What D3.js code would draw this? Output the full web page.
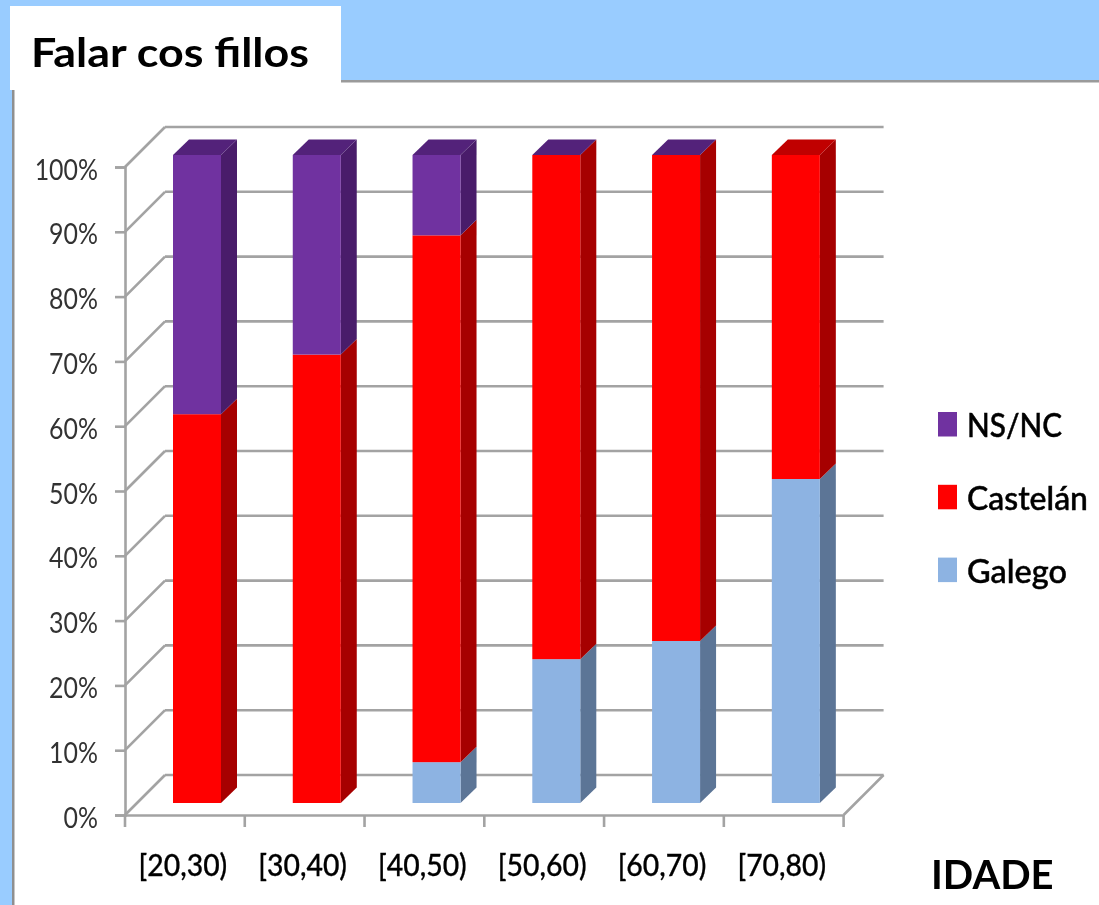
<!DOCTYPE html>
<html>
<head>
<meta charset="utf-8">
<script src="https://cdn.jsdelivr.net/npm/d3@7"></script>
<style>
  html, body { margin: 0; padding: 0; background: #fff; overflow: hidden; }
  svg { display: block; }
  text { font-family: Lato, "Open Sans", sans-serif; }
</style>
</head>
<body>
<svg width="1099" height="905"></svg>
<script>
const ageGroups = ['[20,30)', '[30,40)', '[40,50)', '[50,60)', '[60,70)', '[70,80)']
const galego = [0, 0, 6.3, 22.2, 25, 50]
const castelan = [60, 69.2, 81.3, 77.8, 75, 50]
// null = no segment at all, 0 = flat segment that still paints the bar's cap
const nsnc = [40, 30.8, 12.4, 0, 0, null]
const yTicks = [0, 10, 20, 30, 40, 50, 60, 70, 80, 90, 100]

const seriesNames = ['Galego', 'Castelán', 'NS/NC']
const seriesValues = [galego, castelan, nsnc]
const legendOrder = ['NS/NC', 'Castelán', 'Galego']

const front = { Galego: '#8DB3E2', 'Castelán': '#FF0000', 'NS/NC': '#7030A0' }
const side = { Galego: '#5B7496', 'Castelán': '#A60000', 'NS/NC': '#4A1F6B' }
const cap = { Galego: '#7191B8', 'Castelán': '#C00000', 'NS/NC': '#52227A' }
const legendTextWidth = { 'NS/NC': 95, 'Castelán': 121, Galego: 100 }

const gridColor = '#A3A3A3'
const wallDepth = 40
const barLift = 12
const barDx = 16
const barDy = 15.5
const barInset = 48
const barWidth = 48
const yLabelSqueeze = 0.86
const xLabelSqueeze = 0.915

const svg = d3.select('svg')

// The reference is a soft, upscaled screenshot
svg.append('defs').append('filter')
  .attr('id', 'soft')
  .attr('filterUnits', 'userSpaceOnUse')
  .attr('x', 0).attr('y', 0).attr('width', 1099).attr('height', 905)
  .append('feGaussianBlur').attr('stdDeviation', 0.55)

// Slide frame behind the chart
svg.append('rect').attr('width', 1099).attr('height', 905).attr('fill', '#99CCFF')
svg.append('rect').attr('x', 12).attr('y', 81).attr('width', 1087).attr('height', 824).attr('fill', '#fff')
svg.append('rect').attr('x', 10).attr('y', 6).attr('width', 331).attr('height', 84).attr('fill', '#fff')
svg.append('rect').attr('x', 341).attr('y', 80).attr('width', 758).attr('height', 2.5).attr('fill', '#9A9A9A')
svg.append('rect').attr('x', 12).attr('y', 90).attr('width', 2.5).attr('height', 815).attr('fill', '#8F8F8F')

const chart = svg.append('g').attr('filter', 'url(#soft)')

const x = d3.scaleBand().domain(ageGroups).range([125, 843.6])
const y = d3.scaleLinear().domain([0, 100]).range([815, 167])

// Back wall and side wall grid
const grid = chart.append('g').attr('fill', 'none').attr('stroke', gridColor).attr('stroke-width', 2.6)
grid.selectAll('.back').data(yTicks).join('line')
  .attr('class', 'back')
  .attr('x1', x.range()[0] + wallDepth).attr('x2', x.range()[1] + wallDepth)
  .attr('y1', d => y(d) - wallDepth).attr('y2', d => y(d) - wallDepth)
grid.selectAll('.wall').data(yTicks).join('line')
  .attr('class', 'wall')
  .attr('x1', x.range()[0]).attr('x2', x.range()[0] + wallDepth)
  .attr('y1', d => y(d)).attr('y2', d => y(d) - wallDepth)
grid.append('line')
  .attr('x1', x.range()[1]).attr('x2', x.range()[1] + wallDepth)
  .attr('y1', y(0)).attr('y2', y(0) - wallDepth)

// Stacked 3D bars
ageGroups.forEach((group, i) => {
  const g = chart.append('g')
  const left = x(group) + barInset
  const right = left + barWidth
  let sum = 0
  let topName = null
  let topY = null
  seriesNames.forEach((name, s) => {
    const v = seriesValues[s][i]
    if (v === null) return
    const y0 = y(sum) - barLift
    const y1 = y(sum + v) - barLift
    sum += v
    topName = name
    topY = y1
    if (v === 0) return
    g.append('path')
      .attr('fill', side[name])
      .attr('d', d3.line()([[right, y0], [right + barDx, y0 - barDy], [right + barDx, y1 - barDy], [right, y1]]))
    g.append('rect')
      .attr('x', left).attr('y', y1).attr('width', barWidth).attr('height', y0 - y1)
      .attr('fill', front[name])
  })
  g.append('path')
    .attr('fill', cap[topName])
    .attr('d', d3.line()([[left, topY], [left + barDx, topY - barDy], [right + barDx, topY - barDy], [right, topY]]))
})

// Value axis
const yAxis = chart.append('g')
  .attr('transform', `translate(${x.range()[0]},0)`)
  .call(d3.axisLeft(y).tickValues(yTicks).tickFormat(d => d + '%').tickSize(10).tickPadding(16))
yAxis.select('.domain').attr('stroke', gridColor).attr('stroke-width', 2.6)
yAxis.selectAll('.tick line').attr('stroke', gridColor).attr('stroke-width', 2.6)
yAxis.selectAll('.tick text')
  .attr('font-size', 29).attr('font-family', 'Lato').attr('fill', '#333').attr('dy', '0.42em')
  .attr('x', -27 / yLabelSqueeze)
  .attr('transform', `scale(${yLabelSqueeze},1)`)

// Category axis
const xAxis = chart.append('g')
  .attr('transform', `translate(0,${y(0)})`)
  .call(d3.axisBottom(x).tickSize(0).tickPadding(49))
xAxis.select('.domain').attr('stroke', gridColor).attr('stroke-width', 2.6)
xAxis.selectAll('.tick text')
  .attr('font-size', 31).attr('font-family', 'Lato').attr('font-weight', 500).attr('fill', '#000')
  .attr('stroke', '#000').attr('stroke-width', 0.3)
  .attr('dy', '0.4em')
  .attr('x', -2 / xLabelSqueeze)
  .attr('transform', `scale(${xLabelSqueeze},1)`)
xAxis.selectAll('.edge').data(x.domain().concat('end')).join('line')
  .attr('class', 'edge')
  .attr('x1', d => d === 'end' ? x.range()[1] : x(d))
  .attr('x2', d => d === 'end' ? x.range()[1] : x(d))
  .attr('y1', 0).attr('y2', 12)
  .attr('stroke', gridColor).attr('stroke-width', 2.6)

// Legend
const legend = chart.append('g').selectAll('g').data(legendOrder).join('g')
  .attr('transform', (d, i) => `translate(938,${412 + i * 72.8})`)
legend.append('rect').attr('width', 19).attr('height', 24.5).attr('fill', d => front[d])
legend.append('text')
  .attr('x', 29).attr('y', 25)
  .attr('font-size', 33).attr('font-weight', 500).attr('fill', '#000')
  .attr('stroke', '#000').attr('stroke-width', 0.5)
  .attr('textLength', d => legendTextWidth[d]).attr('lengthAdjust', 'spacingAndGlyphs')
  .text(d => d)

// Title and axis name
chart.append('text').attr('x', 31).attr('y', 67)
  .attr('font-size', 41).attr('font-weight', 700).attr('fill', '#000')
  .attr('textLength', 278).attr('lengthAdjust', 'spacingAndGlyphs')
  .text('Falar cos fillos')
chart.append('text').attr('x', 931).attr('y', 889)
  .attr('font-size', 40).attr('font-weight', 700).attr('fill', '#000')
  .text('IDADE')
</script>
</body>
</html>
